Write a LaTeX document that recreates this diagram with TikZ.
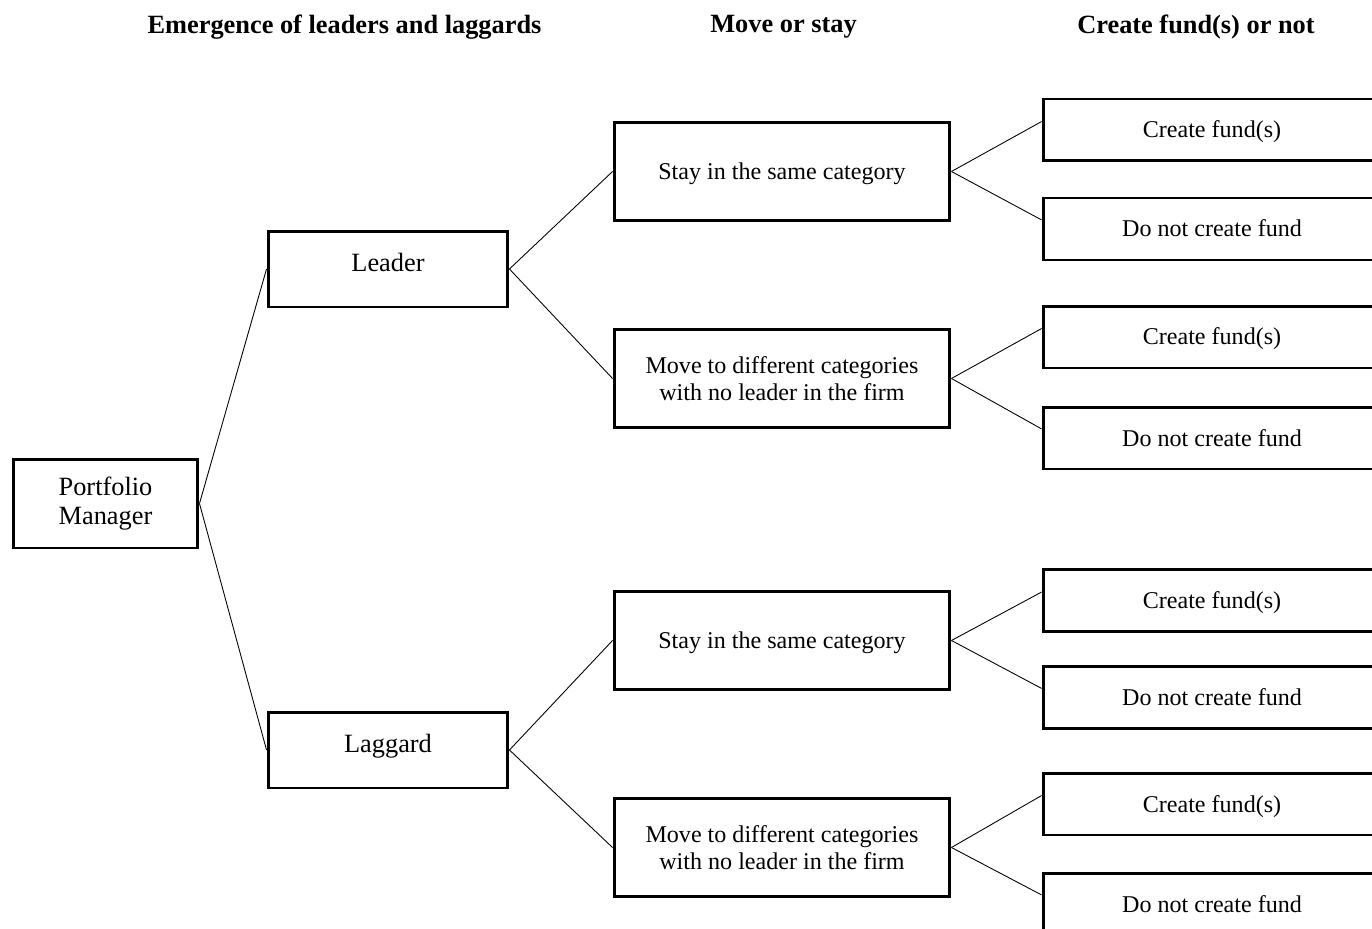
\documentclass[tikz,border=0pt]{standalone}
\usepackage{fontspec}
\setmainfont{Liberation Serif}
\usepackage{tikz}
\usetikzlibrary{positioning,calc}

\tikzset{
  box/.style={draw, line width=1.7pt, align=center},
  pmbox/.style={box, font=\fontsize{15pt}{17pt}\selectfont, minimum width=3.7cm, minimum height=1.78cm},
  kindbox/.style={box, font=\fontsize{15pt}{17pt}\selectfont, text height=0.35cm, text depth=0.24cm, minimum width=4.8cm, minimum height=1.52cm},
  movebox/.style={box, font=\fontsize{13.7pt}{15.3pt}\selectfont, minimum width=6.72cm, minimum height=1.97cm},
  staybox/.style={movebox, text height=0.32cm, text depth=0cm},
  fundbox/.style={box, font=\fontsize{13.7pt}{15.3pt}\selectfont, text height=0.32cm, text depth=0cm, minimum width=6.76cm, minimum height=1.24cm},
  title/.style={font=\fontsize{15pt}{18pt}\selectfont\bfseries},
  branch/.style={line width=0.5pt}
}

\begin{document}
\begin{tikzpicture}[x=0.02cm,y=-0.02cm]
      \clip (0,0) rectangle (1372,929);
      % column titles
      \node[title] (t_1) at (344.5,27) {Emergence of leaders and laggards};
      \node[title] (t_2) at (783.5,27) {Move or stay};
      \node[title] (t_3) at (1196,27) {Create fund(s) or not};

      \node[pmbox] (pm) at (105.5,503.5) {Portfolio\\Manager};
      \node[kindbox] (leader) at (388,269) {Leader};
      \node[kindbox] (laggard) at (388,750) {Laggard};

      \node[staybox] (stay_1) at (782,171.5) {Stay in the same category};
      \node[movebox] (move_1) at (782,378.5) {Move to different categories\\with no leader in the firm};
      \node[staybox] (stay_2) at (782,640.5) {Stay in the same category};
      \node[movebox] (move_2) at (782,847.5) {Move to different categories\\with no leader in the firm};

      \node[fundbox] (c_1) at (1212,130) {Create fund(s)};
      \node[fundbox] (d_1) at (1212,229) {Do not create fund};
      \node[fundbox] (c_2) at (1212,337) {Create fund(s)};
      \node[fundbox] (d_2) at (1212,438) {Do not create fund};
      \node[fundbox] (c_3) at (1212,600.5) {Create fund(s)};
      \node[fundbox] (d_3) at (1212,697.5) {Do not create fund};
      \node[fundbox] (c_4) at (1212,804) {Create fund(s)};
      \node[fundbox] (d_4) at (1212,904) {Do not create fund};

      \draw[branch] (pm.east) -- (leader.west);
      \draw[branch] (pm.east) -- (laggard.west);
      \draw[branch] (leader.east) -- (stay_1.west);
      \draw[branch] (leader.east) -- (move_1.west);
      \draw[branch] (laggard.east) -- (stay_2.west);
      \draw[branch] (laggard.east) -- (move_2.west);

      \foreach \m/\c/\d in {stay_1/c_1/d_1, move_1/c_2/d_2, stay_2/c_3/d_3, move_2/c_4/d_4} {
        \draw[branch] (\m.east) -- ($(\c.north west)!0.37!(\c.south west)$);
        \draw[branch] (\m.east) -- ($(\d.north west)!0.36!(\d.south west)$);
      }
    \end{tikzpicture}
\end{document}
